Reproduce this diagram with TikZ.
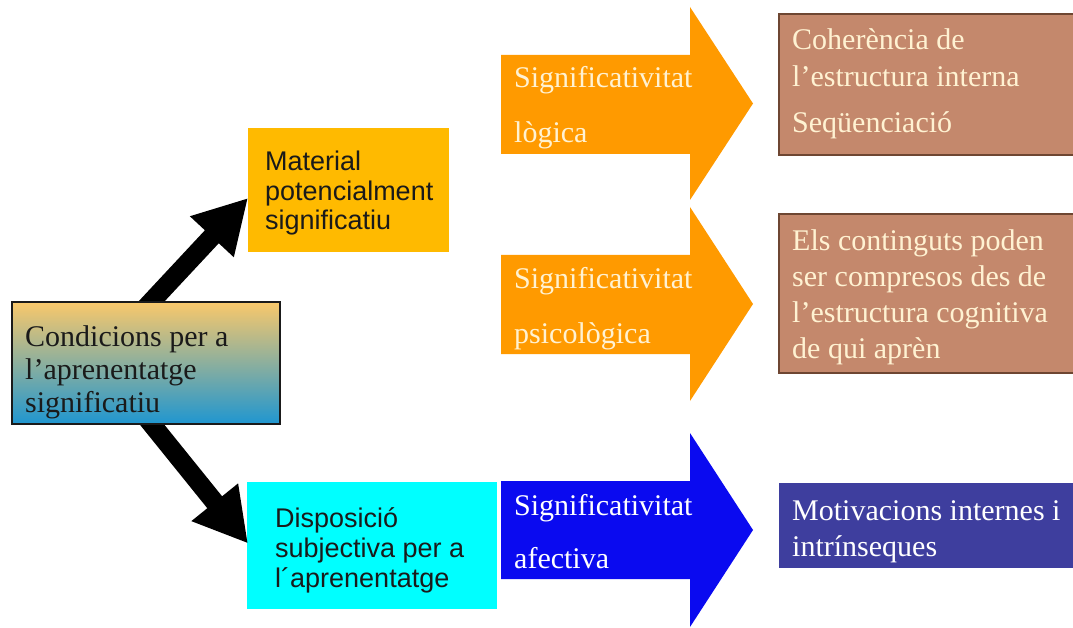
\documentclass[tikz,border=0pt]{standalone}
\usepackage{fontspec}
\setmainfont{Liberation Serif}
\setsansfont{Liberation Sans}
\usetikzlibrary{arrows.meta,calc}

\definecolor{amber}{HTML}{FFBA00}
\definecolor{cyanbox}{HTML}{00FFFF}
\definecolor{orangearrow}{HTML}{FF9A00}
\definecolor{bluearrow}{HTML}{0A0AF0}
\definecolor{brownbox}{HTML}{C4886C}
\definecolor{brownedge}{HTML}{6E4632}
\definecolor{slatebox}{HTML}{3E3E9E}
\definecolor{cream}{HTML}{FFF2D2}
\definecolor{gradtop}{HTML}{F9C86B}
\definecolor{gradmid}{HTML}{B9B3A6}
\definecolor{gradbot}{HTML}{1F96D0}
\definecolor{darktext}{HTML}{1A1A1A}

\begin{document}
\begin{tikzpicture}[x=1pt,y=-1pt,
  box/.style={anchor=north west, inner sep=0pt, outer sep=0pt},
  % multi-line texts are placed by the baseline of their last line
  serifline/.style={font=\fontsize{30}{36.5}\selectfont, anchor=base west,
                    inner sep=0pt, align=left},
  sansline/.style={font=\sffamily\fontsize{27}{29.5}\selectfont, anchor=base west,
                   inner sep=0pt, align=left, text=darktext},
  conn/.style={line width=19pt, draw=black, -{Triangle[length=53pt,width=56pt]}}
]
\useasboundingbox (0,0) rectangle (1073,628);
\clip (0,0) rectangle (1073,628);
\fill[white] (0,0) rectangle (1073,628);

% target boxes of the two black arrows
\node[box, fill=amber, minimum width=201pt, minimum height=124pt] (mat) at (248,128) {};
\node[box, fill=cyanbox, minimum width=250pt, minimum height=127pt] (dis) at (247,482) {};

% black arrows leaving the left box (drawn under it)
\coordinate (upstart) at (95,362);
\coordinate (downstart) at (108,370);
\draw[conn] (upstart) -- ($(mat.west)+(0,8)$);
\draw[conn] (downstart) -- ($(dis.west)+(1,-2)$);

% left box with its vertical gradient
\node[box, draw=darktext, line width=1.2pt, top color=gradtop, middle color=gradmid,
      bottom color=gradbot, minimum width=268pt, minimum height=122pt] (cond) at (12,302) {};
\node[serifline, text=darktext, font=\fontsize{30}{33}\selectfont] (condtxt) at (25,412)
  {Condicions per a\\l’aprenentatge\\significatiu};

\node[sansline] (mattxt) at (265,230) {Material\\potencialment\\significatiu};
\node[sansline, font=\sffamily\fontsize{27}{30}\selectfont] (distxt) at (275,587)
  {Disposició\\subjectiva per a\\l´aprenentatge};

% block arrows
\fill[orangearrow] (501,55) -- (690,55) -- (690,7) -- (753,103.5) -- (690,200)
  -- (690,154) -- (501,154) -- cycle;
\fill[orangearrow] (501,255) -- (690,255) -- (690,207) -- (753,304) -- (690,401)
  -- (690,354) -- (501,354) -- cycle;
\fill[bluearrow] (501,481) -- (690,481) -- (690,433) -- (753,530) -- (690,627)
  -- (690,579) -- (501,579) -- cycle;

\node[serifline, text=cream, font=\fontsize{30}{55}\selectfont] (logtxt) at (514,143)
  {Significativitat\\lògica};
\node[serifline, text=cream, font=\fontsize{30}{55}\selectfont] (psitxt) at (514,343)
  {Significativitat\\psicològica};
\node[serifline, text=white, font=\fontsize{30}{53}\selectfont] (afetxt) at (514,568)
  {Significativitat\\afectiva};

% result boxes on the right
\node[box, fill=brownbox, draw=brownedge, line width=1.3pt,
      minimum width=300pt, minimum height=141pt] (coh) at (779,14) {};
\node[box, fill=brownbox, draw=brownedge, line width=1.3pt,
      minimum width=300pt, minimum height=159pt] (cont) at (779,214) {};
\node[box, fill=slatebox, minimum width=300pt, minimum height=85pt] (mot) at (779,483) {};

\node[serifline, text=cream, font=\fontsize{30}{37}\selectfont] (cohtxt) at (792,133)
  {Coherència de\\l’estructura interna\\[9pt]Seqüenciació};
\node[serifline, text=cream, font=\fontsize{30}{36}\selectfont] (conttxt) at (792,358)
  {Els continguts poden\\ser compresos des de\\l’estructura cognitiva\\de qui aprèn};
\node[serifline, text=white, font=\fontsize{30}{36}\selectfont] (mottxt) at (792,556)
  {Motivacions internes i\\intrínseques};
\end{tikzpicture}
\end{document}
